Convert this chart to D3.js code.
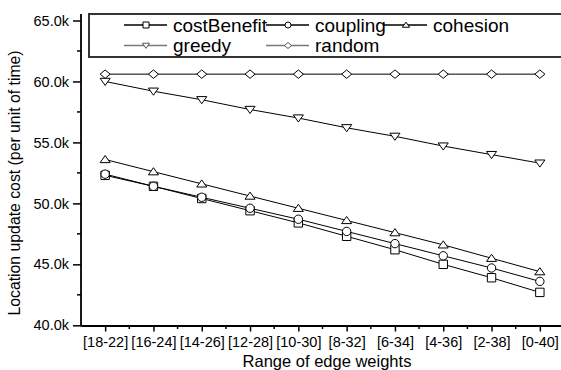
<!DOCTYPE html>
<html>
<head>
<meta charset="utf-8">
<script src="https://cdn.jsdelivr.net/npm/d3@7"></script>
<style>
  body { margin: 0; background: #fff; }
  svg { display: block; font-family: "Liberation Sans", Arial, sans-serif; }
</style>
</head>
<body>
<svg id="drawing_region"></svg>
<script>
// values
const categories = ['[18-22]', '[16-24]', '[14-26]', '[12-28]', '[10-30]', '[8-32]', '[6-34]', '[4-36]', '[2-38]', '[0-40]'];
const costBenefit = [52300, 51400, 50400, 49400, 48400, 47300, 46200, 45000, 43900, 42700];
const coupling = [52400, 51400, 50500, 49600, 48700, 47700, 46700, 45700, 44700, 43600];
const cohesion = [53600, 52600, 51600, 50600, 49600, 48600, 47600, 46600, 45500, 44400];
const greedy = [60000, 59200, 58500, 57700, 57000, 56200, 55500, 54700, 54000, 53300];
const random = [60600, 60600, 60600, 60600, 60600, 60600, 60600, 60600, 60600, 60600];
const yTicks = [40000, 45000, 50000, 55000, 60000, 65000];
const yMinorTicks = [42500, 47500, 52500, 57500, 62500];

const series = [
    {name: 'costBenefit', values: costBenefit, shape: 'square'},
    {name: 'coupling', values: coupling, shape: 'circle'},
    {name: 'cohesion', values: cohesion, shape: 'triangle'},
    {name: 'greedy', values: greedy, shape: 'down'},
    {name: 'random', values: random, shape: 'diamond'}
];

// marker outline, s = half width
function marker( shape, s ) {
    if (shape == 'square') return `M${-s},${-s}H${s}V${s}H${-s}Z`;
    if (shape == 'circle') return `M${s},0A${s},${s} 0 1,1 ${-s},0A${s},${s} 0 1,1 ${s},0Z`;
    if (shape == 'triangle') return `M0,${-s*0.95}L${s*1.2},${s*0.75}L${-s*1.2},${s*0.75}Z`;
    if (shape == 'down') return `M0,${s*0.95}L${s*1.2},${-s*0.75}L${-s*1.2},${-s*0.75}Z`;
    return `M0,${-s}L${s*1.2},0L0,${s}L${-s*1.2},0Z`;
}

class LineChart {

    constructor( config, series ) {
        this.config = config;
        this.series = series;
        this.init();
    }

    init() {
        let self = this;

        self.svg = d3.select( self.config.parent )
            .attr('width', self.config.width)
            .attr('height', self.config.height);

        self.xscale = d3.scalePoint()
            .domain( categories )
            .range( [81, 564] )
            .padding(0.5);

        self.yscale = d3.scaleLinear()
            .domain( [40000, 65000] )
            .range( [325.3, 20.5] );

        self.line = d3.line()
            .x( (d, i) => self.xscale( categories[i] ) )
            .y( d => self.yscale( d ) );
    }

    render() {
        let self = this;
        const fmt = d => (d / 1000).toFixed(1) + 'k';

        // minor ticks
        const xminor = d3.pairs( categories ).map( p => (self.xscale(p[0]) + self.xscale(p[1])) / 2 );
        self.svg.append('g').selectAll('line').data(xminor).enter().append('line')
            .attr('x1', d => d).attr('x2', d => d)
            .attr('y1', 325.5).attr('y2', 329)
            .attr('stroke', '#000').attr('stroke-width', 1.5);
        self.svg.append('g').selectAll('line').data(yMinorTicks).enter().append('line')
            .attr('x1', 77).attr('x2', 81)
            .attr('y1', d => self.yscale(d)).attr('y2', d => self.yscale(d))
            .attr('stroke', '#000').attr('stroke-width', 1.5);

        const xaxis = d3.axisBottom( self.xscale ).tickSize(6).tickPadding(5).tickSizeOuter(0);
        const xg = self.svg.append('g')
            .attr('transform', 'translate(0, 325.5)')
            .call( xaxis );
        xg.select('.domain').attr('stroke-width', 1.8);
        xg.selectAll('.tick line').attr('stroke-width', 1.5);
        xg.selectAll('.tick text').attr('font-size', 14.5).attr('font-family', null).attr('fill', '#000');

        const yaxis = d3.axisLeft( self.yscale ).tickValues( yTicks ).tickFormat( fmt )
            .tickSize(8).tickPadding(4).tickSizeOuter(0);
        const yg = self.svg.append('g')
            .attr('transform', 'translate(81, 0)')
            .call( yaxis );
        yg.select('.domain').attr('d', 'M0,14V326.4').attr('stroke-width', 1.8);
        yg.selectAll('.tick line').attr('stroke-width', 1.5);
        yg.selectAll('.tick text').attr('font-size', 14.5).attr('font-family', null).attr('fill', '#000');

        // axis titles
        self.svg.append('text')
            .attr('x', 327).attr('y', 367)
            .attr('text-anchor', 'middle')
            .attr('font-size', 16.5)
            .text('Range of edge weights');
        self.svg.append('text')
            .attr('transform', 'translate(20, 183) rotate(-90)')
            .attr('text-anchor', 'middle')
            .attr('font-size', 15.8)
            .text('Location update cost (per unit of time)');

        // lines and markers
        const groups = self.svg.append('g').selectAll('g').data(self.series).enter().append('g');
        groups.append('path')
            .attr('d', d => self.line( d.values ))
            .attr('fill', 'none')
            .attr('stroke', '#000')
            .attr('stroke-width', 1);
        groups.each( function(s) {
            d3.select(this).selectAll('path.mark').data(s.values).enter().append('path')
                .attr('class', 'mark')
                .attr('transform', (d, i) => `translate(${self.xscale(categories[i])}, ${self.yscale(d)})`)
                .attr('d', marker( s.shape, 4.2 ))
                .attr('fill', '#fff')
                .attr('stroke', '#000')
                .attr('stroke-width', 1);
        });

        // legend
        const legend = self.svg.append('g');
        legend.append('rect')
            .attr('x', 89).attr('y', 14)
            .attr('width', 480).attr('height', 43)
            .attr('fill', '#fff')
            .attr('stroke', '#333')
            .attr('stroke-width', 2);
        const textX = [173, 315, 433];
        const items = legend.selectAll('g').data(self.series).enter().append('g')
            .attr('transform', (d, i) => `translate(${textX[i % 3]}, ${i < 3 ? 25 : 45.5})`);
        items.append('line')
            .attr('x1', -49).attr('x2', -6)
            .attr('stroke', (d, i) => i < 3 ? '#000' : '#777')
            .attr('stroke-width', 1.3);
        items.append('path')
            .attr('transform', 'translate(-27, 0)')
            .attr('d', d => marker( d.shape, 3 ))
            .attr('fill', '#fff')
            .attr('stroke', (d, i) => i < 3 ? '#000' : '#555')
            .attr('stroke-width', 1);
        items.append('text')
            .attr('y', 6.8)
            .attr('font-size', 19)
            .text( d => d.name );
    }
}

const config = {
    parent: '#drawing_region',
    width: 561,
    height: 370
};

const chart = new LineChart( config, series );
chart.render();
</script>
</body>
</html>
